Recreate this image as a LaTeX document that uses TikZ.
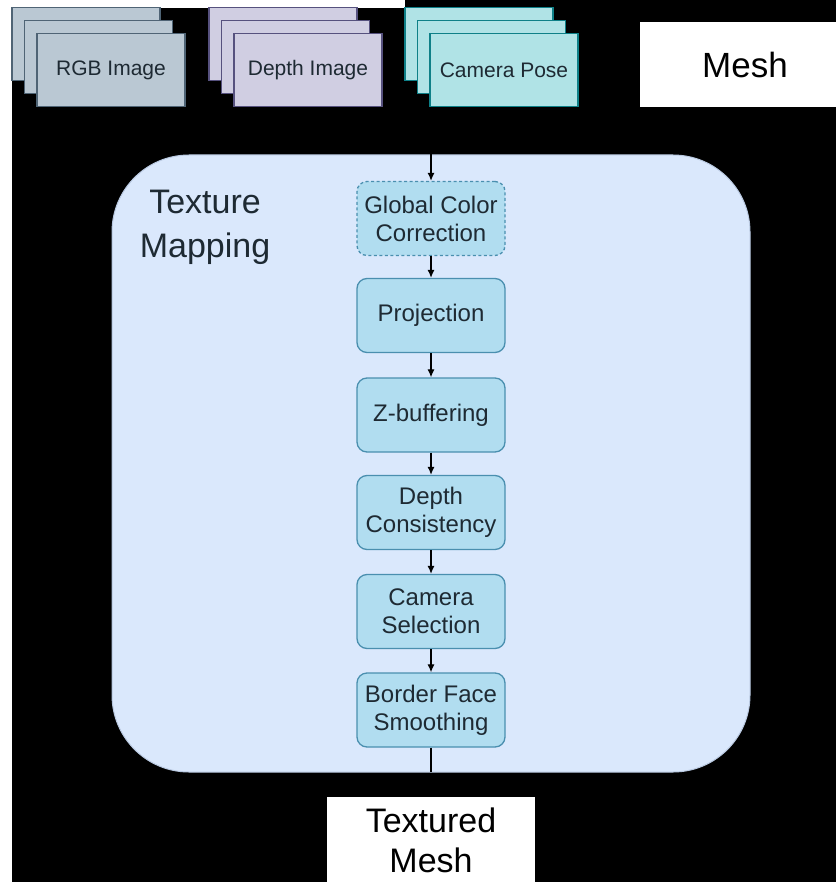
\documentclass[tikz,border=0pt]{standalone}
\usepackage{fontspec}
\setmainfont{Liberation Sans}
\usetikzlibrary{arrows.meta}
\definecolor{rgbF}{HTML}{BAC8D3}
\definecolor{rgbS}{HTML}{4F6475}
\definecolor{depF}{HTML}{D0CEE2}
\definecolor{depS}{HTML}{56517E}
\definecolor{camF}{HTML}{B0E3E6}
\definecolor{camS}{HTML}{0E8088}
\definecolor{contF}{HTML}{DAE8FC}
\definecolor{contS}{HTML}{B8C8E0}
\definecolor{stepF}{HTML}{B1DDF0}
\definecolor{stepS}{HTML}{4A8FAF}
\definecolor{txt}{HTML}{1E2A33}
\tikzset{
  card/.style={draw=#1S, fill=#1F, line width=1.2pt, minimum width=148pt, minimum height=73pt, inner sep=0pt},
  cardtxt/.style={font=\fontsize{21}{25}\selectfont, text=txt},
  stepbox/.style={draw=stepS, fill=stepF, line width=1.3pt, rounded corners=10pt, minimum width=148pt, minimum height=74pt, inner sep=0pt, align=center, text=txt, font=\fontsize{24}{28}\selectfont},
  whitebox/.style={fill=white, draw=none, inner sep=0pt, align=center, text=black},
  conn/.style={draw=black, line width=1.2pt, -{Latex[length=8pt,width=7pt]}},
}
\begin{document}
\begin{tikzpicture}[x=1pt,y=-1pt]
\useasboundingbox (0,0) rectangle (836,882);
\fill[black] (0,0) rectangle (836,882);
\fill[white] (0,0) rectangle (12,882);
\fill[white] (0,0) rectangle (405,8);
% RGB stack
\node[card=rgb] (rgbA) at (86,44) {};
\node[card=rgb] (rgbB) at (98.5,57) {};
\node[card=rgb, cardtxt] (rgbC) at (111,70) {RGB Image};
% Depth stack
\node[card=dep] (depA) at (283,44) {};
\node[card=dep] (depB) at (295.5,57) {};
\node[card=dep, cardtxt] (depC) at (308,70) {Depth Image};
% Camera stack
\node[card=cam] (camA) at (479,44) {};
\node[card=cam] (camB) at (491.5,57) {};
\node[card=cam, cardtxt] (camC) at (504,70) {Camera Pose};
% Mesh
\node[whitebox, minimum width=210pt, minimum height=85pt, font=\fontsize{35}{40}\selectfont] (mesh) at (745,64.5) {Mesh};
% Container
\draw[fill=contF, draw=contS, line width=1pt, rounded corners=77pt] (112,155) rectangle (750,772);
\node[font=\fontsize{34}{44}\selectfont, align=center, text=txt] (title) at (205,227) {Texture\\Mapping};
% Steps
\node[stepbox, dash pattern=on 3pt off 2.5pt] (gcc) at (431,218.5) {Global Color\\Correction};
\node[stepbox] (proj) at (431,315.5) {Projection};
\node[stepbox] (zbuf) at (431,415) {Z-buffering};
\node[stepbox] (dcon) at (431,512.5) {Depth\\Consistency};
\node[stepbox] (csel) at (431,611.5) {Camera\\Selection};
\node[stepbox] (bfs) at (431,710) {Border Face\\Smoothing};
\coordinate (in) at (431,143);
\coordinate (out) at (431,772);
\draw[conn] (in) -- (gcc);
\draw[conn] (gcc) -- (proj);
\draw[conn] (proj) -- (zbuf);
\draw[conn] (zbuf) -- (dcon);
\draw[conn] (dcon) -- (csel);
\draw[conn] (csel) -- (bfs);
\draw[draw=black, line width=1.2pt] (bfs) -- (out);
% Textured mesh
\node[whitebox, minimum width=208pt, minimum height=86pt, font=\fontsize{34}{40}\selectfont] (tmesh) at (431,840) {Textured\\Mesh};
\end{tikzpicture}
\end{document}
